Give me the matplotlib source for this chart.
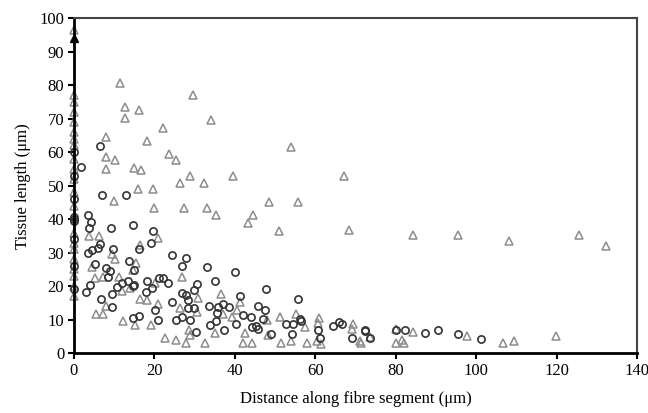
import matplotlib
matplotlib.use("Agg")
import matplotlib.pyplot as plt

# open triangles (grey)
tri_x = [11.5, 29.6, 12.7, 16.2, 12.7, 34.2, 22.2, 8.0, 18.1, 54.0, 67.2, 23.6, 8.0, 10.2, 25.5,
         8.0, 14.9, 16.7, 28.9, 39.6, 26.5, 32.3, 10.0, 16.0, 19.6, 19.9, 27.4, 33.2, 35.3, 44.6,
         43.2, 48.6, 55.6, 51.0, 68.5, 84.4, 95.4, 108.2, 125.7, 132.2,
         3.8, 6.3, 21.0, 16.4, 9.4, 10.2, 15.4, 4.4, 5.2, 7.3, 11.3, 14.8, 20.1, 11.9, 13.9,
         16.4, 18.2, 26.8, 30.9, 21.0, 8.0, 5.5, 7.3, 12.1, 15.2, 19.1, 26.5, 30.5, 28.7, 28.9,
         22.6, 25.4, 28.0, 32.6, 36.7, 37.1, 35.1, 40.5, 41.3, 42.5, 42.1, 44.2, 39.2,
         51.2, 55.2, 57.5, 61.0, 60.8, 48.1, 51.5, 53.9, 58.0, 60.4, 61.5, 69.5, 69.1, 71.1,
         71.3, 73.5, 80.2, 84.4, 80.2, 82.1, 81.5, 48.3, 97.7, 106.8, 109.3, 119.9,
         0, 0, 0, 0, 0, 0, 0, 0, 0, 0, 0, 0, 0, 0, 0, 0, 0, 0, 0, 0, 0]
tri_y = [80.5, 77.1, 73.5, 72.5, 70.2, 69.5, 67.3, 64.6, 63.3, 61.5, 52.8, 59.4, 58.6, 57.6, 57.6,
         55.0, 55.3, 54.6, 52.9, 52.9, 50.9, 50.9, 45.5, 49.1, 49.1, 43.2, 43.4, 43.4, 41.2, 41.2,
         38.9, 45.2, 45.0, 36.5, 36.9, 35.2, 35.2, 33.5, 35.2, 32.0,
         34.9, 34.9, 34.5, 32.2, 29.7, 28.2, 26.9, 25.8, 22.5, 22.8, 22.6, 24.8, 20.8, 18.6, 19.5,
         16.3, 16.0, 22.6, 16.6, 14.8, 14.0, 11.8, 11.8, 9.7, 8.4, 8.4, 13.6, 12.3, 6.9, 5.4,
         4.4, 3.9, 2.9, 2.9, 17.6, 11.8, 5.9, 13.0, 15.3, 5.9, 2.9, 2.9, 10.8,
         10.8, 11.6, 7.9, 10.6, 9.0, 10.0, 2.9, 3.6, 2.9, 3.7, 2.7, 8.8, 7.3, 3.7,
         2.9, 4.9, 7.3, 6.4, 2.9, 2.9, 3.9, 5.4, 5.2, 2.9, 3.7, 5.2,
         17, 20, 23, 25, 28, 31, 33, 36, 44, 48, 52, 55, 58, 62, 64, 66, 69, 72, 75, 77, 96.5]

# filled triangle on the axis
solid_x = [0]
solid_y = [94]

# open circles (dark)
circ_x = [6.5, 1.7, 7.0, 12.9, 3.5, 4.2, 3.7, 9.2, 14.6, 19.7, 19.1, 16.2, 6.5, 5.9, 4.6, 3.6,
          9.8, 5.2, 13.8, 8.0, 9.0, 14.9, 8.5, 13.5, 14.9, 18.1, 21.2, 22.1, 23.5, 24.5, 28.0,
          26.8, 33.2, 40.0, 35.1, 30.5, 3.0, 4.0, 6.7, 9.4, 10.8, 11.9, 14.6, 17.9, 19.3, 9.4,
          14.8, 16.2, 20.1, 21.0, 24.3, 27.0, 27.9, 28.4, 29.9, 28.4, 29.9, 25.4, 26.8, 28.9,
          30.3, 33.7, 35.9, 37.0, 35.5, 35.3, 33.8, 37.3, 38.6, 41.3, 42.0, 40.3, 44.0, 44.2, 45.8,
          47.8, 55.8, 47.5, 46.9, 45.4, 45.8, 52.7, 54.4, 56.2, 56.4, 54.2, 48.9, 60.8, 61.2,
          64.5, 65.8, 66.6, 69.2, 72.4, 72.4, 73.6, 80.2, 82.3, 87.3, 90.6, 95.4, 101.2,
          0, 0, 0, 0, 0, 0, 0, 0, 0]
circ_y = [61.9, 55.7, 47.2, 47.2, 41.2, 39.2, 37.4, 37.5, 38.2, 36.5, 32.9, 31.2, 32.5, 31.4, 30.7, 29.9,
          31.2, 26.6, 27.4, 25.3, 24.6, 24.8, 22.6, 21.5, 20.3, 21.6, 22.3, 22.3, 21.0, 29.3, 28.5,
          26.0, 25.8, 24.3, 21.4, 20.5, 18.3, 20.3, 16.3, 17.5, 19.8, 21.0, 20.0, 18.3, 19.3, 13.9,
          10.5, 11.0, 12.8, 10.0, 15.3, 18.0, 17.3, 16.0, 18.8, 13.6, 13.6, 10.0, 10.8, 9.9,
          6.4, 14.0, 13.9, 14.8, 12.0, 9.6, 8.4, 6.9, 13.9, 17.0, 11.3, 8.6, 10.8, 7.9, 14.0,
          19.0, 16.1, 13.0, 10.3, 8.1, 7.3, 8.6, 8.6, 10.3, 9.7, 5.7, 5.7, 7.0, 4.4,
          8.1, 9.4, 8.6, 4.4, 7.0, 6.5, 4.4, 7.0, 7.0, 5.9, 7.0, 5.6, 4.1,
          19, 26, 34, 39.5, 40, 40.5, 46, 53, 60]

plt.rcParams['font.family'] = ['Liberation Serif', 'DejaVu Serif']

fig = plt.figure(figsize=(6.48, 4.13), dpi=100)
ax = fig.add_axes([0.114, 0.145, 0.869, 0.811])

ax.plot(tri_x, tri_y, linestyle='none', marker='^', markersize=6, markerfacecolor='none',
        markeredgecolor='#8c8c8c', markeredgewidth=1.1, clip_on=False)
ax.plot(circ_x, circ_y, linestyle='none', marker='o', markersize=5.2, markerfacecolor='none',
        markeredgecolor='#333333', markeredgewidth=1.2, clip_on=False)
ax.plot(solid_x, solid_y, linestyle='none', marker='^', markersize=6, color='black', clip_on=False)

ax.set_xlim(0, 140)
ax.set_ylim(0, 100)
ax.set_xticks(range(0, 141, 20))
ax.set_yticks(range(0, 101, 10))

for side in ['left', 'bottom']:
    ax.spines[side].set_linewidth(2)
    ax.spines[side].set_color('black')
for side in ['top', 'right']:
    ax.spines[side].set_linewidth(1.5)
    ax.spines[side].set_color('#444444')

ax.tick_params(direction='out', length=4, width=1.5, labelsize=12, colors='black', pad=3)

ax.set_xlabel('Distance along fibre segment (μm)', fontsize=12, labelpad=9)
ax.set_ylabel('Tissue length (μm)', fontsize=12, labelpad=6)

fig.savefig('out.png', dpi=100)
